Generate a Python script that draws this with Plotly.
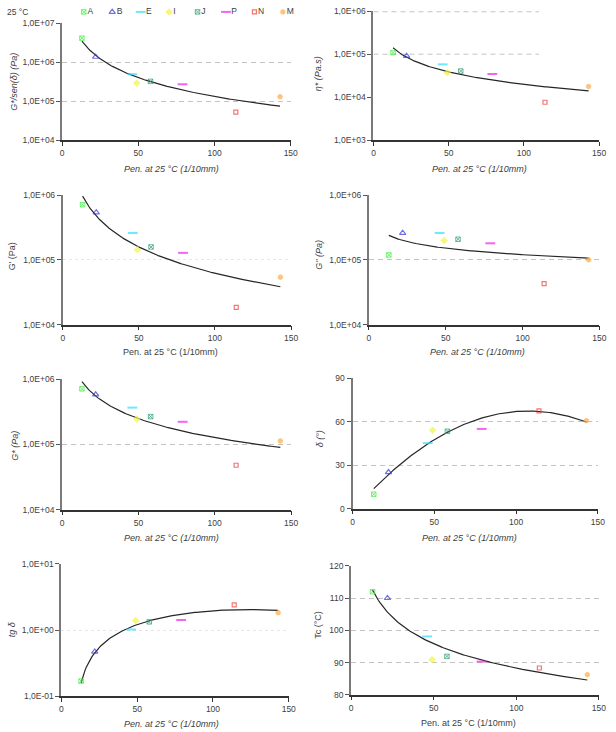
import numpy as np
import plotly.graph_objects as go

# ---------------- data ----------------
samples = ["A", "B", "E", "I", "J", "P", "N", "M"]
pen_25 = [13, 22, 46, 49, 58, 79, 114, 143]

g_star_over_sin = [4.1e6, 1.36e6, 4.9e5, 2.9e5, 3.2e5, 2.7e5, 5.2e4, 1.29e5]
eta_star = [1.09e5, 9.1e4, 5.8e4, 3.7e4, 4.05e4, 3.46e4, 7.6e3, 1.77e4]
g_storage = [7.1e5, 5.4e5, 2.6e5, 1.43e5, 1.58e5, 1.28e5, 1.85e4, 5.4e4]
g_loss = [1.19e5, 2.6e5, 2.6e5, 1.98e5, 2.08e5, 1.8e5, 4.3e4, 1.0e5]
g_star = [7.1e5, 5.8e5, 3.66e5, 2.44e5, 2.67e5, 2.22e5, 4.8e4, 1.13e5]
delta_deg = [10, 25.1, 45.2, 54.1, 53.4, 55.0, 67.5, 60.7]
tg_delta = [0.169, 0.471, 1.02, 1.39, 1.33, 1.42, 2.41, 1.83]
tc = [112, 110, 98.1, 90.9, 91.9, 90.3, 88.3, 86.2]

x_ticks = [0, 50, 100, 150]
x_title = "Pen. at 25 °C (1/10mm)"
legend_title = "25 °C"

# ---------------- styles ----------------
colors = ["#3cee3c", "#3333dd", "#33ddff", "#f4f447", "#2f9a6e", "#ee22ee", "#ee3b3b", "#ffaa44"]
symbols = ["square-x-open", "triangle-up-open", "line-ew-open", "diamond", "square-x-open",
           "line-ew-open", "square-open", "circle"]
sizes = [4.5, 5.5, 7, 5, 4.5, 7, 4, 4.5]
lwidths = [1, 1.2, 2, 1, 1, 2, 1.2, 1]

W, H = 616, 732
FONT = "Liberation Sans"
TXT = "#404040"


def fx(p):
    return p / W


def fy(p):
    return 1 - p / H


def trend(x, y, kind):
    x = np.asarray(x, float)
    y = np.asarray(y, float)
    xs = np.linspace(x.min(), x.max(), 150)
    if kind == "power":
        b, a = np.polyfit(np.log(x), np.log(y), 1)
        ys = np.exp(a) * xs ** b
    else:
        c = np.polyfit(x, y, 2)
        ys = np.polyval(c, xs)
    return xs, ys


def log_label(v):
    e = int(round(np.log10(v)))
    return "1,0E{:+03d}".format(e)


panels = [
    dict(y=g_star_over_sin, fit="power", log=True, rng=[4, 7], yt=[1e4, 1e5, 1e6, 1e7],
         box=(61, 293, 18.3, 137), ytitle="G*/sen(δ) (Pa)", yit=True, xit=True,
         ypos=(12, 78), xpos=(172, 166.7), grid="dash"),
    dict(y=eta_star, fit="power", log=True, rng=[3, 6], yt=[1e3, 1e4, 1e5, 1e6],
         box=(377, 606, 6.3, 137), ytitle="η* (Pa.s)", yit=True, xit=True,
         ypos=(321, 70), xpos=(485, 166.7), grid="short"),
    dict(y=g_storage, fit="power", log=True, rng=[4, 6], yt=[1e4, 1e5, 1e6],
         box=(61.7, 293.3, 192.7, 324), ytitle="G' (Pa)", yit=False, xit=False,
         ypos=(10, 255), xpos=(171, 352), grid="faint"),
    dict(y=g_loss, fit="power", log=True, rng=[4, 6], yt=[1e4, 1e5, 1e6],
         box=(372.3, 606.3, 192.7, 324), ytitle="G'' (Pa)", yit=True, xit=True,
         ypos=(321, 253), xpos=(483, 352), grid="dash"),
    dict(y=g_star, fit="power", log=True, rng=[4, 6], yt=[1e4, 1e5, 1e6],
         box=(61, 293.3, 379.3, 511.7), ytitle="G* (Pa)", yit=True, xit=True,
         ypos=(13, 447), xpos=(172, 540), grid="dash"),
    dict(y=delta_deg, fit="poly2", log=False, rng=[0, 90], yt=[0, 30, 60, 90],
         box=(355.7, 604.7, 378.3, 510.7), ytitle="δ (°)", yit=True, xit=True,
         ypos=(323, 440), xpos=(474, 540), grid="dash"),
    dict(y=tg_delta, fit="poly2", log=True, rng=[-1, 1], yt=[0.1, 1, 10],
         box=(60.3, 291, 566.7, 700.7), ytitle="tg δ", yit=True, xit=True,
         ypos=(10, 633), xpos=(172, 729), grid="faint"),
    dict(y=tc, fit="power", log=False, rng=[80, 120], yt=[80, 90, 100, 110, 120],
         box=(354.3, 605.7, 568.7, 699.3), ytitle="Tc (°C)", yit=False, xit=False,
         ypos=(321, 628), xpos=(473, 728), grid="dash"),
]

fig = go.Figure()
layout = dict(width=W, height=H, margin=dict(l=0, r=0, t=0, b=0),
              paper_bgcolor="white", plot_bgcolor="rgba(0,0,0,0)", showlegend=False,
              font=dict(family=FONT, size=9, color=TXT))
annotations = []

for i, p in enumerate(panels, start=1):
    xa = "x" if i == 1 else f"x{i}"
    ya = "y" if i == 1 else f"y{i}"
    x0, x1, y0, y1 = p["box"]

    grid_kw = dict(showgrid=False)
    if p["grid"] == "dash":
        grid_kw = dict(showgrid=True, gridcolor="#c4c4c4", griddash="5px,4px", gridwidth=1)
    elif p["grid"] == "faint":
        grid_kw = dict(showgrid=True, gridcolor="#e6e6e6", griddash="3px,3px", gridwidth=1)

    layout["xaxis" if i == 1 else f"xaxis{i}"] = dict(
        domain=[fx(x0), fx(x1)], range=[0, 150], anchor=ya,
        tickmode="array", tickvals=x_ticks, ticks="outside", ticklen=4, tickwidth=1,
        tickcolor="#333333", showline=True, linecolor="#333333", linewidth=1.5,
        showgrid=False, zeroline=False, ticklabeloverflow="allow",
        tickfont=dict(size=8.5, color=TXT, family=FONT))
    if p["log"]:
        ytext = [log_label(v) for v in p["yt"]]
    else:
        ytext = [str(v) for v in p["yt"]]
    layout["yaxis" if i == 1 else f"yaxis{i}"] = dict(
        domain=[fy(y1), fy(y0)], range=p["rng"], type="log" if p["log"] else "linear",
        anchor=xa, tickmode="array", tickvals=p["yt"], ticktext=ytext,
        ticks="outside", ticklen=4, tickwidth=1, tickcolor="#555555",
        showline=True, linecolor="#7a7a7a", linewidth=2, zeroline=False,
        ticklabeloverflow="allow",
        tickfont=dict(size=8.5, color=TXT, family=FONT), **grid_kw)

    # short gridlines (panel 2); the one on the top edge is drawn wider since it is half clipped
    if p["grid"] == "short":
        for v in p["yt"][2:]:
            on_edge = abs(np.log10(v) - p["rng"][1]) < 1e-9
            fig.add_trace(go.Scatter(x=[0, 110], y=[v, v], mode="lines", xaxis=xa, yaxis=ya,
                                     line=dict(color="#c4c4c4", width=2 if on_edge else 1,
                                               dash="5px,4px"),
                                     hoverinfo="skip"))

    # trend line
    xs, ys = trend(pen_25, p["y"], p["fit"])
    fig.add_trace(go.Scatter(x=xs, y=ys, mode="lines", xaxis=xa, yaxis=ya,
                             line=dict(color="#262626", width=1.2), hoverinfo="skip"))
    # data points
    fig.add_trace(go.Scatter(
        x=pen_25, y=p["y"], mode="markers", xaxis=xa, yaxis=ya, text=samples,
        cliponaxis=False,
        marker=dict(symbol=symbols, color=colors, size=sizes,
                    line=dict(color=colors, width=lwidths))))

    yt = f"<i>{p['ytitle']}</i>" if p["yit"] else p["ytitle"]
    annotations.append(dict(text=yt, x=fx(p["ypos"][0]), y=fy(p["ypos"][1]), xref="paper",
                            yref="paper", showarrow=False, textangle=-90,
                            font=dict(size=9, color=TXT, family=FONT),
                            xanchor="center", yanchor="middle"))
    xt = f"<i>{x_title}</i>" if p["xit"] else x_title
    annotations.append(dict(text=xt, x=fx(p["xpos"][0]), y=fy(p["xpos"][1]), xref="paper",
                            yref="paper", showarrow=False,
                            font=dict(size=9, color=TXT, family=FONT),
                            xanchor="center", yanchor="middle"))

# ---------------- legend (row at the top-left) ----------------
first, step, strip_w = 83, 28.86, 305
layout["xaxis9"] = dict(domain=[0, fx(strip_w)], range=[-first / step, (strip_w - first) / step],
                        visible=False, anchor="y9")
layout["yaxis9"] = dict(domain=[fy(14), 1], range=[0, 1], visible=False, anchor="x9")
fig.add_trace(go.Scatter(
    x=list(range(len(samples))), y=[0.5] * len(samples), xaxis="x9", yaxis="y9",
    mode="markers+text", text=samples, textposition="middle right", cliponaxis=False,
    textfont=dict(size=8.5, color=TXT, family=FONT),
    marker=dict(symbol=symbols, color=colors, size=sizes,
                line=dict(color=colors, width=lwidths)), hoverinfo="skip"))
annotations.append(dict(text=legend_title, x=fx(3), y=fy(7), xref="paper", yref="paper",
                        showarrow=False, xanchor="left", yanchor="middle",
                        font=dict(size=8.5, color=TXT, family=FONT)))

layout["annotations"] = annotations
fig.update_layout(**layout)
fig.write_html("out.html")
